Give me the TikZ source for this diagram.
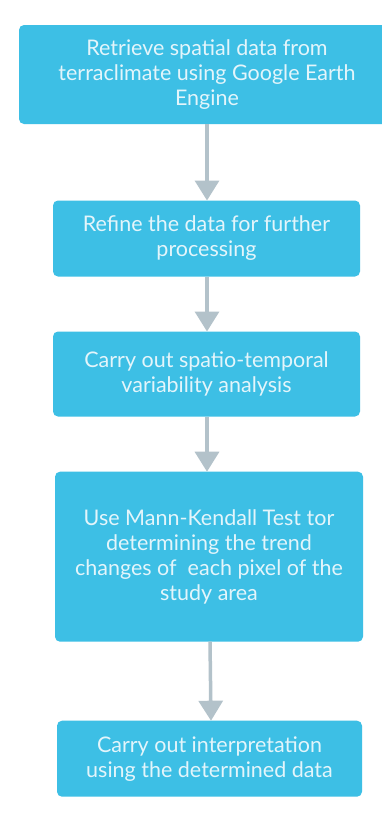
\documentclass[tikz,border=0pt]{standalone}
\usepackage{fontspec}
\setmainfont{Lato}
\usetikzlibrary{arrows.meta}
\definecolor{boxfill}{HTML}{3DBFE5}
\definecolor{boxtext}{HTML}{E3F5FB}
\definecolor{arrowgray}{HTML}{B3C2CA}
\tikzset{
  stepbox/.style={fill=boxfill, rounded corners=5pt, text=boxtext, align=center,
    font=\fontsize{21.5}{25}\selectfont, inner sep=0pt},
  flow/.style={draw=arrowgray, line width=3.5pt, -{Triangle[width=24pt,length=20pt]}}
}
\begin{document}
\begin{tikzpicture}[x=1pt,y=-1pt]
  \fill[white] (0,0) rectangle (382,819);
  \clip (0,0) rectangle (382,819);
  \node[stepbox, minimum width=376pt, minimum height=99pt] (b1) at (207,74.5)
    {Retrieve spatial data from\\terraclimate using Google Earth\\Engine};
  \node[stepbox, minimum width=307pt, minimum height=76pt] (b2) at (206.5,238.5)
    {Refine the data for further\\processing};
  \node[stepbox, minimum width=307pt, minimum height=85pt] (b3) at (206.5,374)
    {Carry out spatio-temporal\\variability analysis};
  \node[stepbox, minimum width=308pt, minimum height=170pt] (b4) at (209,556.7)
    {Use Mann-Kendall Test tor\\determining the trend\\changes of\ \ each pixel of the\\study area};
  \node[stepbox, minimum width=305pt, minimum height=76pt] (b5) at (209.5,758.7)
    {Carry out interpretation\\using the determined data};
  \draw[flow] (207,124) -- (207,200.5);
  \draw[flow] (207,276.5) -- (207,331.5);
  \draw[flow] (207,416.5) -- (207,471.7);
  \draw[flow] (210,641.7) -- (211,720.7);
\end{tikzpicture}
\end{document}
